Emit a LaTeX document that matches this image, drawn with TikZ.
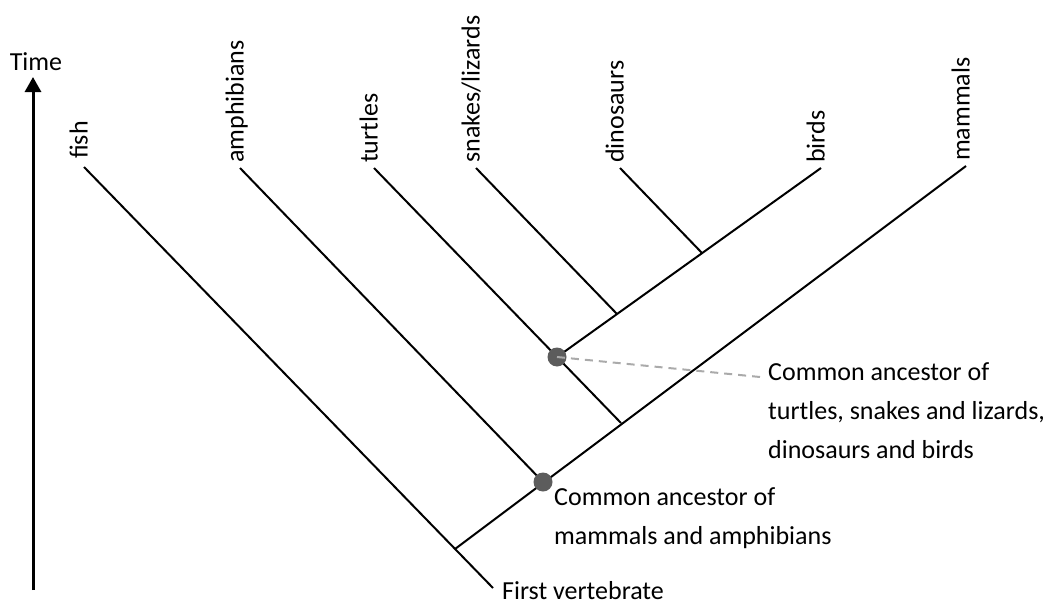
\documentclass[tikz,border=0pt]{standalone}
\usepackage{fontspec}
\setmainfont{Carlito}
\usetikzlibrary{arrows.meta}
\definecolor{dotgray}{RGB}{92,92,92}
\definecolor{dashgray}{RGB}{170,170,170}
\tikzset{
  every node/.style={font=\fontsize{26}{39}\selectfont, inner sep=0pt},
  branch/.style={line width=2pt, black},
  taxon/.style={rotate=90, anchor=west, text height=0.72em, text depth=0pt, inner sep=0pt},
  ancestor/.style={circle, fill=dotgray, minimum size=19pt, inner sep=0pt},
  pointer/.style={dashgray, line width=2pt, dash pattern=on 8pt off 6pt},
  note/.style={align=left, anchor=north west, inner sep=0pt},
  timeaxis/.style={line width=3pt, -{Triangle[width=16pt,length=15pt]}}
}
\begin{document}
\begin{tikzpicture}[x=1pt,y=1pt]
\useasboundingbox (0,0) rectangle (1053,-605);
% coordinates
\coordinate (tfish) at (84,-167);
\coordinate (tamph) at (240,-168);
\coordinate (tturt) at (374,-168);
\coordinate (tsnak) at (476,-168);
\coordinate (tdino) at (620,-168);
\coordinate (tbird) at (821,-168);
\coordinate (tmamm) at (966,-166);
\coordinate (root) at (455,-549);
\coordinate (fvend) at (493,-588);
\coordinate (jturt) at (621,-423);
\coordinate (jsnak) at (617,-314);
\coordinate (jdino) at (702,-253);
\coordinate (tbot) at (33,-590);
\coordinate (ttop) at (33,-77);
% branches
\draw[branch] (tfish) -- (fvend);
\draw[branch] (root) -- (tmamm);
\draw[branch] (tamph) -- (543,-482);
\draw[branch] (tturt) -- (jturt);
\draw[branch] (557,-357) -- (tbird);
\draw[branch] (tsnak) -- (jsnak);
\draw[branch] (tdino) -- (jdino);
% ancestors
\node[ancestor] (amam) at (543,-482) {};
\node[ancestor] (arep) at (557,-357) {};
% labels
\node[taxon] (lfish) at ([yshift=8pt]tfish) {fish};
\node[taxon] (lamph) at ([yshift=5pt]tamph) {amphibians};
\node[taxon] (lturt) at ([yshift=5pt]tturt) {turtles};
\node[taxon] (lsnak) at ([yshift=5pt]tsnak) {snakes/lizards};
\node[taxon] (ldino) at ([yshift=5pt]tdino) {dinosaurs};
\node[taxon] (lbird) at ([yshift=5pt]tbird) {birds};
\node[taxon] (lmamm) at ([yshift=5pt]tmamm) {mammals};
% notes
\node[note] (nrep) at (768,-362) {Common ancestor of\\turtles, snakes and lizards,\\dinosaurs and birds};
\coordinate (nrepin) at (760,-377);
\draw[pointer] (arep.center) -- (nrepin);
\node[note] (nmam) at (554,-487) {Common ancestor of\\mammals and amphibians};
\node[anchor=west] (fv) at (502,-591) {First vertebrate};
% time axis
\draw[timeaxis] (tbot) -- (ttop);
\node (time) at (36,-62) {Time};
\end{tikzpicture}
\end{document}
